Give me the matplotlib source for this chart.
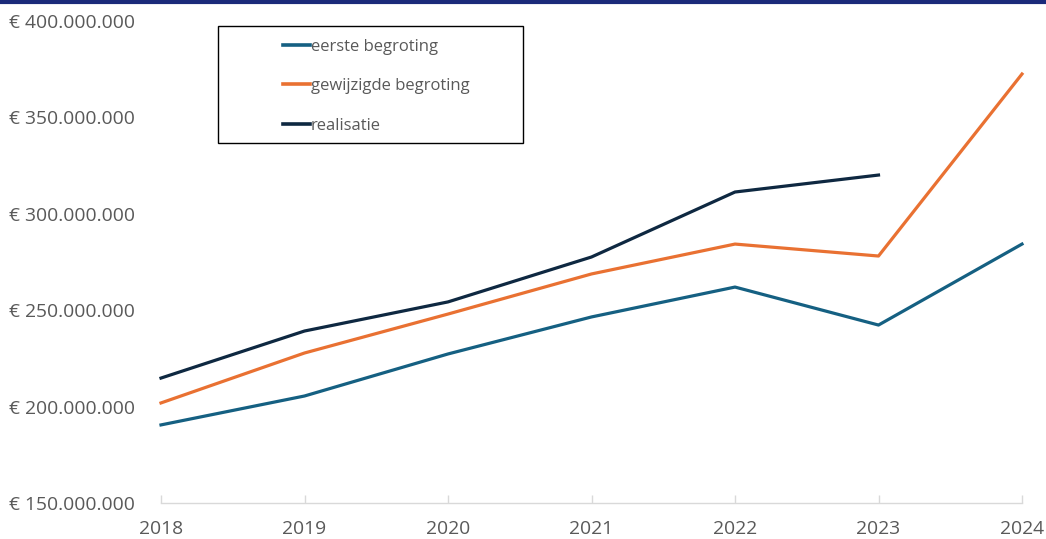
import matplotlib
matplotlib.use("Agg")
import matplotlib.pyplot as plt
from matplotlib.ticker import FuncFormatter
from matplotlib.lines import Line2D
from matplotlib.patches import Rectangle

years = [2018, 2019, 2020, 2021, 2022, 2023, 2024]
eerste = [190.5, 205.5, 227.3, 246.5, 262.0, 242.3, 284.3]
gewijzigd = [201.9, 227.8, 248.0, 268.8, 284.3, 278.1, 372.5]
real_years = [2018, 2019, 2020, 2021, 2022, 2023]
realisatie = [214.8, 239.2, 254.3, 277.6, 311.3, 320.1]
yticks = [150, 200, 250, 300, 350, 400]
labels = ["eerste begroting", "gewijzigde begroting", "realisatie"]
colors = ["#156082", "#E97132", "#0E2841"]

plt.rcParams['font.family'] = ['Open Sans', 'DejaVu Sans']

W, H = 1046, 539
fig = plt.figure(figsize=(W/100, H/100), dpi=100)
ax = fig.add_axes([161/W, 36/H, (1022-161)/W, (503-21)/H])

lw = 2.3
ax.plot(years, [v*1e6 for v in eerste], color=colors[0], lw=lw, label=labels[0], solid_joinstyle='round')
ax.plot(years, [v*1e6 for v in gewijzigd], color=colors[1], lw=lw, label=labels[1], solid_joinstyle='round')
ax.plot(real_years, [v*1e6 for v in realisatie], color=colors[2], lw=lw, label=labels[2], solid_joinstyle='round')

ax.set_xlim(2018, 2024)
ax.set_ylim(150e6, 400e6)
ax.set_yticks([v*1e6 for v in yticks])
ax.set_xticks(years)

def fmt(v, pos):
    s = f"{int(round(v)):,}".replace(",", ".")
    return "€ " + s
ax.yaxis.set_major_formatter(FuncFormatter(fmt))

for s in ['top', 'right', 'left']:
    ax.spines[s].set_visible(False)
ax.spines['bottom'].set_color('#D9D9D9')
ax.spines['bottom'].set_linewidth(1.0)
ax.tick_params(axis='y', length=0, pad=19, labelsize=13.9, labelcolor='#595959')
ax.tick_params(axis='x', length=6, direction='in', color='#D9D9D9', width=1.0,
               pad=12, labelsize=13.9, labelcolor='#595959')

for line in ax.get_lines():
    line.set_clip_on(False)

# legend frame (fixed box like the reference)
fig.add_artist(Rectangle((218/W, 1-143/H), (523-218)/W, (143-26)/H,
                         transform=fig.transFigure, fill=False,
                         edgecolor='black', lw=1.0))
leg = fig.legend(loc='upper left', bbox_to_anchor=(268/W, 1-24/H),
                 frameon=False, fontsize=12, labelcolor='#595959',
                 handlelength=1.6, handletextpad=0.08, borderpad=0.4,
                 labelspacing=1.4)
for h in leg.legend_handles:
    h.set_linewidth(2.6)

# top border line
fig.add_artist(Line2D([0, 1], [1 - 1.5/H, 1 - 1.5/H], transform=fig.transFigure,
                      color='#1B2A7A', lw=3))

fig.savefig("out.png", dpi=100)
